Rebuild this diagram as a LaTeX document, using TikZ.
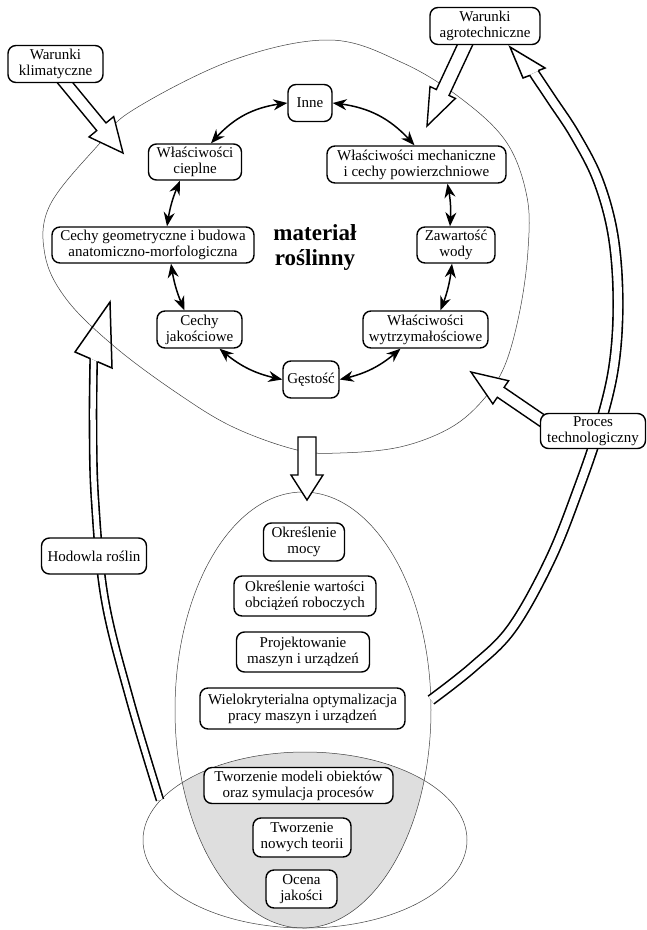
\documentclass[tikz,border=0pt]{standalone}
\usepackage{fontspec}
\setmainfont{Liberation Serif}
\usetikzlibrary{calc,arrows.meta,bending}
\pgfdeclarelayer{bg}
\pgfdeclarelayer{mid}
\pgfsetlayers{bg,mid,main}
\tikzset{
  box/.style={draw, line width=1.4pt, rounded corners=8pt, fill=white, align=center,
    inner sep=1pt, font=\fontsize{15}{16}\selectfont},
  ring/.style={line width=1.5pt, {Stealth[length=14pt,width=11pt]}-{Stealth[length=14pt,width=11pt]}},
  blockarr/.style={draw, line width=1.4pt, fill=white, line join=miter},
  headline/.style={draw, line width=1.5pt, line join=miter},
  dblA/.style={double=white, double distance=5.5pt, line width=1.6pt},
  dblB/.style={double=white, double distance=8pt, line width=1.6pt},
  thinline/.style={line width=0.5pt, draw=black!75},
}
\newcommand{\blockarrow}[5]{%
  \coordinate (#1-#2-c) at ($(#2)!#5!(#1)$);
  \filldraw[blockarr] ($(#1)!#3!90:(#2)$) -- ($(#1-#2-c)!#3!90:(#2)$) -- ($(#1-#2-c)!#4!90:(#2)$) -- (#2) -- ($(#1-#2-c)!#4!-90:(#2)$) -- ($(#1-#2-c)!#3!-90:(#2)$) -- ($(#1)!#3!-90:(#2)$) -- cycle;}
\begin{document}
\begin{tikzpicture}[x=1pt,y=-1pt]
\useasboundingbox (0,0) rectangle (646,930);

% ---------- nodes ----------
\node[box, minimum width=95pt, minimum height=37pt] (wk) at (55.5,64) {Warunki\\klimatyczne};
\node[box, minimum width=110pt, minimum height=37pt] (wa) at (485,26) {Warunki\\agrotechniczne};
\node[box, minimum width=44pt, minimum height=37pt] (inne) at (310,103) {Inne};
\node[box, minimum width=93pt, minimum height=36pt] (cie) at (195,162) {Właściwości\\cieplne};
\node[box, minimum width=179pt, minimum height=37pt] (mech) at (416.5,164.5) {Właściwości mechaniczne\\i cechy powierzchniowe};
\node[box, minimum width=202pt, minimum height=36pt] (geo) at (153,245) {Cechy geometryczne i budowa\\anatomiczno-morfologiczna};
\node[box, minimum width=78pt, minimum height=36pt] (zaw) at (456,245) {Zawartość\\wody};
\node[box, minimum width=85pt, minimum height=37pt] (jak) at (199.5,329.5) {Cechy\\jakościowe};
\node[box, minimum width=125pt, minimum height=37pt] (wyt) at (425.5,329.5) {Właściwości\\wytrzymałościowe};
\node[box, minimum width=56pt, minimum height=37pt] (ges) at (311,379.5) {Gęstość};
\node[box, minimum width=105pt, minimum height=35pt] (proc) at (593,431) {Proces\\technologiczny};
\node[box, minimum width=105pt, minimum height=36pt] (hod) at (94,556) {Hodowla roślin};
\node[box, minimum width=81pt, minimum height=38pt] (moc) at (304,542) {Określenie\\mocy};
\node[box, minimum width=142pt, minimum height=40pt] (obc) at (305,596) {Określenie wartości\\obciążeń roboczych};
\node[box, minimum width=133pt, minimum height=40pt] (proj) at (303,652) {Projektowanie\\maszyn i urządzeń};
\node[box, minimum width=205pt, minimum height=41pt] (wiel) at (302.5,708.5) {Wielokryterialna optymalizacja\\pracy maszyn i urządzeń};
\node[box, minimum width=189pt, minimum height=36pt] (mod) at (298.5,785.5) {Tworzenie modeli obiektów\\oraz symulacja procesów};
\node[box, minimum width=98pt, minimum height=39pt] (teo) at (302,837.5) {Tworzenie\\nowych teorii};
\node[box, minimum width=71pt, minimum height=38pt] (oce) at (301.5,889) {Ocena\\jakości};
\node[font=\bfseries\fontsize{23}{25}\selectfont, align=center] (mat) at (315,247) {materiał\\roślinny};

% ---------- background shapes ----------
\begin{pgfonlayer}{bg}
  \begin{scope}
    \clip (303,710) ellipse [x radius=128pt, y radius=218pt];
    \fill[black!13] (305,840) ellipse [x radius=162pt, y radius=88pt];
  \end{scope}
  \draw[thinline] (303,710) ellipse [x radius=128pt, y radius=218pt];
  \draw[thinline] (305,840) ellipse [x radius=162pt, y radius=88pt];
  \draw[thinline] plot[smooth cycle, tension=0.6] coordinates {(330,40) (403,63) (463,100) (507,143) (527,197) (528,250) (520,310) (505,365) (483,400) (450,428) (400,447) (340,453) (297,450) (233,427) (177,393) (115,347) (67,300) (45,255) (50,205) (100,143) (133,110) (233,60)};
\end{pgfonlayer}

% ---------- arrows ----------
\begin{pgfonlayer}{mid}
  % ring of double-headed arrows
  \draw[ring] (inne.west) to[bend right=22] ([xshift=16pt]cie.north);
  \draw[ring] (inne.east) to[bend left=22] ([xshift=-2pt]mech.north);
  \draw[ring] ([xshift=-15pt]cie.south) to[bend right=8] ([xshift=14pt]geo.north);
  \draw[ring] ([xshift=18pt]geo.south) to[bend right=8] ([xshift=-15pt]jak.north);
  \draw[ring] ([xshift=20pt]jak.south) to[bend right=15] (ges.west);
  \draw[ring] (ges.east) to[bend right=15] ([xshift=-25pt]wyt.south);
  \draw[ring] ([xshift=15pt]wyt.north) to[bend right=8] ([xshift=-4pt]zaw.south);
  \draw[ring] ([xshift=-6pt]zaw.north) to[bend right=8] ([xshift=31pt]mech.south);

  % block arrows
  \coordinate (k1) at (54.6,70);  \coordinate (k2) at (123,153);
  \blockarrow{k1}{k2}{6pt}{16pt}{34pt}
  \coordinate (a1) at (471,32);   \coordinate (a2) at (427,126);
  \blockarrow{a1}{a2}{7pt}{14pt}{37pt}
  \coordinate (p1) at (553,428);  \coordinate (p2) at (471,372);
  \blockarrow{p1}{p2}{6pt}{14pt}{36pt}
  \coordinate (d1) at (307,437);  \coordinate (d2) at (307,500);
  \blockarrow{d1}{d2}{9pt}{16pt}{25pt}

  % Hodowla roslin: double arrow up
  \coordinate (h0) at (160,800);
  \begin{scope}
    \clip (0,319.6) -- (200,406) -- (200,930) -- (0,930) -- cycle;
    \draw[dblA] plot[smooth, tension=0.6] coordinates {(h0) (130,700) (105,600) (95,500) (93,420) (94,345)};
  \end{scope}
  \coordinate (hL) at (75,352); \coordinate (hT) at (110,302); \coordinate (hR) at (112,368);
  \coordinate (hs1) at (90.5,358.7); \coordinate (hs2) at (97.5,361.7);
  \draw[headline] (hs1) -- (hL) -- (hT) -- (hR) -- (hs2);

  % return arrow to Warunki agrotechniczne
  \coordinate (r0) at (431,700);
  \begin{scope}
    \clip (400,133.9) -- (646,22.1) -- (646,930) -- (400,930) -- cycle;
    \draw[dblB] plot[smooth, tension=0.6] coordinates {(r0) (473,667) (512,628) (550,560) (578,490) (600,425) (614,365) (618,300) (613,235) (598,180) (575,135) (552,100) (534,73) (526,60)};
  \end{scope}
  \coordinate (rL) at (523,78); \coordinate (rT) at (510,47); \coordinate (rR) at (545,68);
  \coordinate (rs1) at (529.8,75.4); \coordinate (rs2) at (538.2,70.6);
  \draw[headline] (rs1) -- (rL) -- (rT) -- (rR) -- (rs2);
\end{pgfonlayer}
\end{tikzpicture}
\end{document}
